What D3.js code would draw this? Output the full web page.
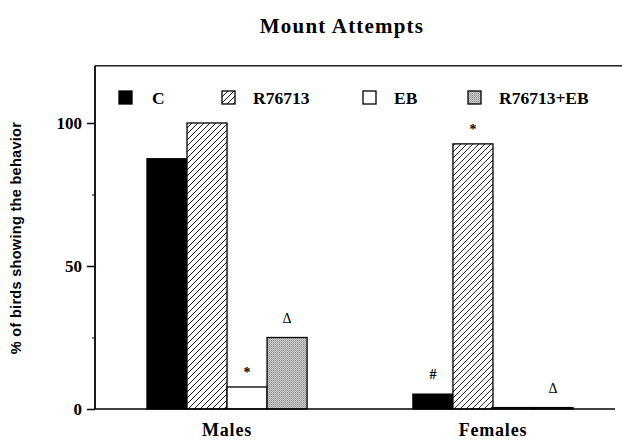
<!DOCTYPE html>
<html>
<head>
<meta charset="utf-8">
<script src="https://cdn.jsdelivr.net/npm/d3@7"></script>
<style>
  body { margin: 0; background: #fff; }
  svg { display: block; }
</style>
</head>
<body>
<div id="chart"></div>
<script>
var width = 622, height = 441;

var groups = ['Males', 'Females'];
var series = ['C', 'R76713', 'EB', 'R76713+EB'];
var malesValues = [87.5, 100, 7.7, 25];
var femalesValues = [5.2, 92.7, 0.5, 0.5];
var yTicks = [0, 50, 100];
var yMinorTicks = [25, 75];
var marks = [
  { group: 'Males', series: 'EB', label: '*' },
  { group: 'Males', series: 'R76713+EB', label: '\u0394' },
  { group: 'Females', series: 'C', label: '#' },
  { group: 'Females', series: 'R76713', label: '*' },
  { group: 'Females', series: 'R76713+EB', label: '\u0394' }
];

var valuesByGroup = { 'Males': malesValues, 'Females': femalesValues };
var fills = { 'C': '#000', 'R76713': 'url(#hatch)', 'EB': '#fff', 'R76713+EB': 'url(#stipple)' };

var svg = d3.select('#chart').append('svg')
  .attr('width', width)
  .attr('height', height);

var defs = svg.append('defs');
var hatch = defs.append('pattern')
  .attr('id', 'hatch')
  .attr('patternUnits', 'userSpaceOnUse')
  .attr('width', 6).attr('height', 6);
hatch.append('rect').attr('width', 6).attr('height', 6).attr('fill', '#fff');
hatch.append('path')
  .attr('d', 'M0,6 L6,0 M-1,1 L1,-1 M5,7 L7,5')
  .attr('stroke', '#000').attr('stroke-width', 0.9);

var stip = defs.append('pattern')
  .attr('id', 'stipple')
  .attr('patternUnits', 'userSpaceOnUse')
  .attr('width', 2).attr('height', 2);
stip.append('rect').attr('width', 2).attr('height', 2).attr('fill', '#d0d0d0');
stip.append('rect').attr('width', 1).attr('height', 1).attr('fill', '#8a8a8a');
stip.append('rect').attr('x', 1).attr('y', 1).attr('width', 1).attr('height', 1).attr('fill', '#a8a8a8');

var y = d3.scaleLinear().domain([0, 120]).range([409, 65.8]);
var x0 = d3.scaleBand().domain(groups).range([93, 627]).paddingInner(0.398).paddingOuter(0.203);
var x1 = d3.scaleBand().domain(series).range([0, x0.bandwidth()]);

// title
svg.append('text')
  .attr('x', 342).attr('y', 33)
  .attr('text-anchor', 'middle')
  .style('font-family', 'Liberation Serif, serif')
  .style('font-weight', 'bold')
  .style('font-size', '21px')
  .style('letter-spacing', '1.2px')
  .text('Mount Attempts');

// frame top
svg.append('line')
  .attr('x1', 95).attr('x2', 622)
  .attr('y1', y(120)).attr('y2', y(120))
  .attr('stroke', '#222').attr('stroke-width', 1.5);

// bars
var g = svg.selectAll('.grp')
  .data(groups).enter()
  .append('g')
  .attr('transform', function(d) { return 'translate(' + x0(d) + ',0)'; });

g.selectAll('rect')
  .data(function(d) {
    return series.map(function(s, i) { return { s: s, v: valuesByGroup[d][i] }; });
  }).enter()
  .append('rect')
  .attr('x', function(d) { return x1(d.s); })
  .attr('y', function(d) { return y(d.v); })
  .attr('width', x1.bandwidth())
  .attr('height', function(d) { return y(0) - y(d.v); })
  .attr('fill', function(d) { return fills[d.s]; })
  .attr('stroke', '#000')
  .attr('stroke-width', 1.3);

// significance marks
svg.selectAll('.mark')
  .data(marks).enter()
  .append('text')
  .attr('x', function(d) { return x0(d.group) + x1(d.series) + x1.bandwidth() / 2; })
  .attr('y', function(d) {
    var v = valuesByGroup[d.group][series.indexOf(d.series)];
    return y(v) - (d.label == '*' ? 10 : 15);
  })
  .attr('text-anchor', 'middle')
  .style('font-family', 'Liberation Serif, serif')
  .style('font-weight', function(d) { return d.label == '\u0394' ? 'normal' : 'bold'; })
  .style('font-size', '14px')
  .text(function(d) { return d.label; });

// y axis
var yAxis = d3.axisLeft(y).tickValues(yTicks).tickSize(8).tickPadding(5);
var ax = svg.append('g').attr('transform', 'translate(95,0)').call(yAxis);
ax.select('.domain').remove();
ax.selectAll('line').attr('stroke', '#000').attr('stroke-width', 1.5);
ax.selectAll('text')
  .style('font-family', 'Liberation Serif, serif')
  .style('font-weight', 'bold')
  .style('font-size', '17px')
  .attr('fill', '#000');

var axMinor = svg.append('g').attr('transform', 'translate(95,0)')
  .call(d3.axisLeft(y).tickValues(yMinorTicks).tickSize(3).tickFormat(''));
axMinor.select('.domain').remove();
axMinor.selectAll('line').attr('stroke', '#000');

svg.append('line')
  .attr('x1', 95).attr('x2', 95)
  .attr('y1', y(120)).attr('y2', y(0))
  .attr('stroke', '#000').attr('stroke-width', 1.8);

// baseline
svg.append('line')
  .attr('x1', 95).attr('x2', 615)
  .attr('y1', y(0)).attr('y2', y(0))
  .attr('stroke', '#000').attr('stroke-width', 1.5);

// group labels
svg.selectAll('.glabel')
  .data(groups).enter()
  .append('text')
  .attr('x', function(d) { return x0(d) + x0.bandwidth() / 2; })
  .attr('y', 436)
  .attr('text-anchor', 'middle')
  .style('font-family', 'Liberation Serif, serif')
  .style('font-weight', 'bold')
  .style('font-size', '18px')
  .style('letter-spacing', '0.8px')
  .text(function(d) { return d; });

// y title
svg.append('text')
  .attr('transform', 'translate(21,238) rotate(-90)')
  .attr('text-anchor', 'middle')
  .style('font-family', 'Liberation Sans, Arial, sans-serif')
  .style('font-weight', 'bold')
  .style('font-size', '14.5px')
  .style('letter-spacing', '0.3px')
  .text('% of birds showing the behavior');

// legend
var legendX = [119, 222, 363, 468];
var leg = svg.selectAll('.leg')
  .data(series).enter()
  .append('g')
  .attr('transform', function(d, i) { return 'translate(' + legendX[i] + ',91)'; });
leg.append('rect')
  .attr('width', 13).attr('height', 13)
  .attr('fill', function(d) { return fills[d]; })
  .attr('stroke', '#000').attr('stroke-width', 1.3);
leg.append('text')
  .attr('x', function(d, i) { return i == 0 ? 33 : 31; })
  .attr('y', 13)
  .style('font-family', 'Liberation Serif, serif')
  .style('font-weight', 'bold')
  .style('font-size', '17.5px')
  .text(function(d) { return d; });
</script>
</body>
</html>
